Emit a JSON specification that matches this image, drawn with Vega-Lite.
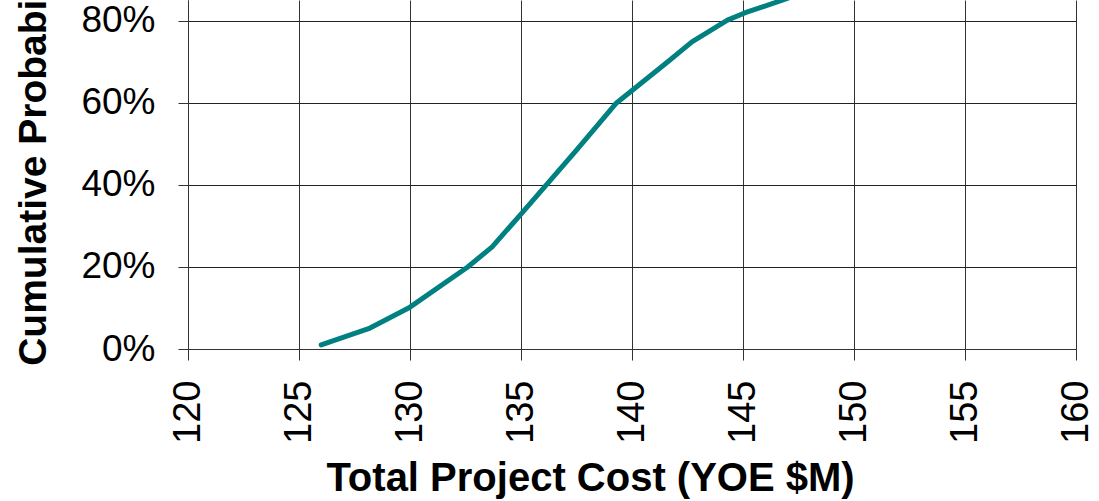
{
  "$schema": "https://vega.github.io/schema/vega-lite/v6.json",
  "autosize": "none",
  "width": 888,
  "height": 349,
  "padding": {"left": 188, "top": 0, "right": 23, "bottom": 152},
  "background": "white",
  "config": {"view": {"stroke": null}, "font": "Liberation Sans"},
  "data": {"values": [
    {"cost": 126.0, "prob": 0.01},
    {"cost": 128.2, "prob": 0.051},
    {"cost": 130.0, "prob": 0.102},
    {"cost": 132.6, "prob": 0.20},
    {"cost": 133.7, "prob": 0.249},
    {"cost": 135.0, "prob": 0.329},
    {"cost": 137.5, "prob": 0.485},
    {"cost": 139.3, "prob": 0.60},
    {"cost": 141.6, "prob": 0.70},
    {"cost": 142.7, "prob": 0.749},
    {"cost": 144.3, "prob": 0.802},
    {"cost": 145.1, "prob": 0.82},
    {"cost": 146.8, "prob": 0.851},
    {"cost": 148.0, "prob": 0.875}
  ]},
  "mark": {"type": "line", "color": "#008080", "strokeWidth": 5, "strokeCap": "round", "strokeJoin": "round", "clip": true},
  "encoding": {
    "x": {
      "field": "cost", "type": "quantitative",
      "scale": {"domain": [120, 160], "nice": false, "zero": false},
      "axis": {
        "title": "Total Project Cost (YOE $M)",
        "values": [120, 125, 130, 135, 140, 145, 150, 155, 160],
        "labelAngle": -90, "labelFontSize": 38, "labelColor": "black",
        "labelPadding": 20, "tickSize": 11, "tickColor": "#333", "tickWidth": 1,
        "domainColor": "#333", "domainWidth": 1,
        "grid": true, "gridColor": "#333", "gridWidth": 1, "gridOpacity": 1,
        "titleFontSize": 40, "titleFontWeight": "bold", "titleColor": "black",
        "titleX": 402, "titleY": 141, "titleBaseline": "alphabetic", "titleAlign": "center",
        "labelFlush": false, "labelOverlap": false
      }
    },
    "y": {
      "field": "prob", "type": "quantitative",
      "scale": {"domain": [0, 0.851], "nice": false},
      "axis": {
        "title": "Cumulative Probability",
        "values": [0, 0.2, 0.4, 0.6, 0.8],
        "format": ".0%",
        "labelFontSize": 37, "labelColor": "black", "labelPadding": 23,
        "tickSize": 10, "tickColor": "#333", "tickWidth": 1,
        "domainColor": "#333", "domainWidth": 1,
        "grid": true, "gridColor": "#222", "gridWidth": 1, "gridOpacity": 1,
        "titleFontSize": 39, "titleFontWeight": "bold", "titleColor": "black",
        "titleX": -143, "titleY": 154, "titleBaseline": "alphabetic", "titleAngle": -90, "titleAlign": "center",
        "labelFlush": false, "labelOverlap": false
      }
    }
  }
}
